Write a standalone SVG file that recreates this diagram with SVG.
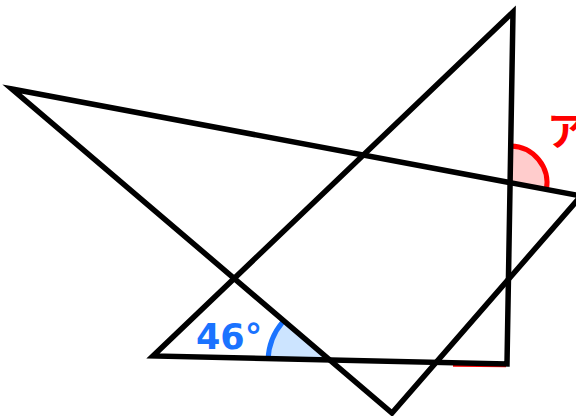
<svg xmlns="http://www.w3.org/2000/svg" width="576" height="416" viewBox="0 0 576 416">
<style>
.edge{fill:none;stroke:#000;stroke-width:5.5;stroke-linejoin:miter}
.lbl{font-family:"DejaVu Sans",sans-serif;font-weight:bold}
</style>
<rect width="576" height="416" fill="#fff"/>
<g id="angles">
<path d="M510,183 L510.6,146 A37,37 0 0 1 546.3,189.9 Z" fill="#ffcccc"/>
<path d="M510.6,146 A37,37 0 0 1 546.3,189.9" fill="none" stroke="#ff0000" stroke-width="5"/>
<path d="M330,362 L268,360 A62,62 0 0 1 283,321.6 Z" fill="#cce4ff"/>
<path d="M268,360 A62,62 0 0 1 283,321.6" fill="none" stroke="#1a73ff" stroke-width="5"/>
<line x1="453" y1="365.5" x2="506" y2="366" stroke="#ff0000" stroke-width="2.5"/>
</g>
<g id="connectors">
<polygon class="edge" points="12,89 581,196 392,413"/>
<polygon class="edge" points="513,12 153,356 507,364"/>
</g>
<g id="label-a">
<text x="547" y="145" font-family="'Noto Sans CJK JP',sans-serif" font-weight="bold" font-size="39" fill="#ff0000">ア</text>
</g>
<g id="label-46">
<text class="lbl" x="196" y="349" font-size="35" fill="#1a73ff">46°</text>
</g>
</svg>
